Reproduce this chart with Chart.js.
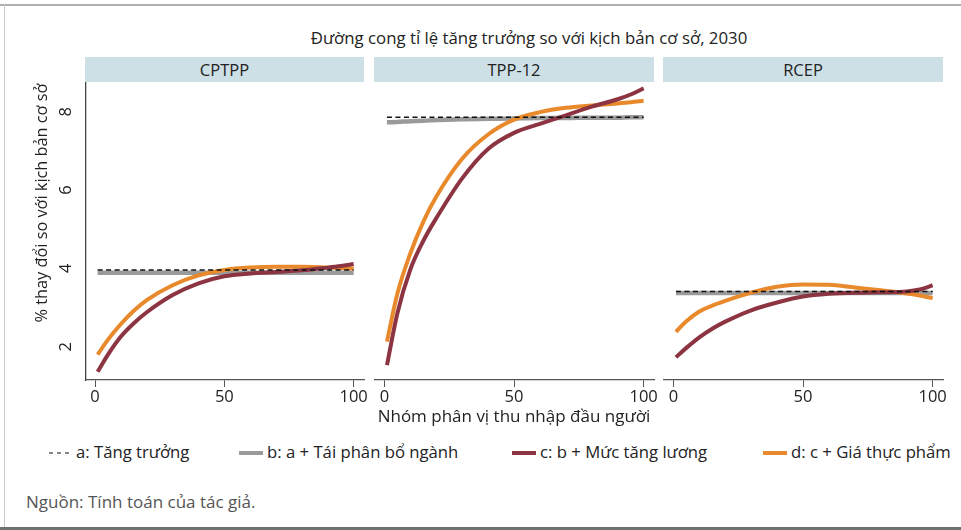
<!DOCTYPE html>
<html><head><meta charset="utf-8">
<script src="https://cdn.jsdelivr.net/npm/chart.js@4"></script>
<style>
body{margin:0;width:961px;height:530px;position:relative;background:#fff;font-family:"Open Sans",sans-serif;overflow:hidden;color:#222}
.frameT{position:absolute;left:0;top:4px;width:961px;height:1.5px;background:#b0b0b0}
.frameL{position:absolute;left:4px;top:4px;width:1px;height:524px;background:#c8c8c8}
.frameB{position:absolute;left:0;top:527px;width:961px;height:3px;background:#707070}
.title{position:absolute;left:0;width:1058px;top:26px;text-align:center;font-size:16.8px}
.hdr{position:absolute;top:57px;height:25px;background:#cde0e6;text-align:center;line-height:25px;font-size:16.5px}
.box{position:absolute;top:82px;height:336px}
.xt{position:absolute;left:0;width:1028px;top:404px;text-align:center;font-size:17px}
.leg{position:absolute;top:440px;font-size:16.7px;white-space:nowrap;line-height:24px}
.sw{display:inline-block;width:24px;height:4px;vertical-align:middle;margin-right:4px;position:relative;top:-1px}
.src{position:absolute;left:26px;top:490px;font-size:17px;color:#555}
</style></head>
<body>
<div class="frameT"></div><div class="frameL"></div><div class="frameB"></div>
<div class="title">Đường cong tỉ lệ tăng trưởng so với kịch bản cơ sở, 2030</div>
<div class="hdr" style="left:85px;width:279px">CPTPP</div>
<div class="hdr" style="left:374px;width:280px">TPP-12</div>
<div class="hdr" style="left:663px;width:280px">RCEP</div>
<div class="box" style="left:0;width:384px"><canvas id="c1"></canvas></div>
<div class="box" style="left:374px;width:300px"><canvas id="c2"></canvas></div>
<div class="box" style="left:663px;width:298px"><canvas id="c3"></canvas></div>
<div class="xt">Nhóm phân vị thu nhập đầu người</div>
<div class="leg" style="left:47px"><svg width="26" height="6" style="vertical-align:middle;margin-right:3px;position:relative;top:-1px"><line x1="2" y1="3" x2="26" y2="3" stroke="#111" stroke-width="1.2" stroke-dasharray="4,4"/></svg>a: Tăng trưởng</div>
<div class="leg" style="left:239px"><span class="sw" style="background:#9a9a9a"></span>b: a + Tái phân bổ ngành</div>
<div class="leg" style="left:512px"><span class="sw" style="background:#8c3441"></span>c: b + Mức tăng lương</div>
<div class="leg" style="left:763px"><span class="sw" style="background:#e8892b"></span>d: c + Giá thực phẩm</div>
<div class="src">Nguồn: Tính toán của tác giả.</div>
<script>
const percentiles = [1,5,10,15,20,30,40,50,60,70,80,90,95,100];
const panelTitles = ["CPTPP","TPP-12","RCEP"];
const seriesLabels = ["a: Tăng trưởng","b: a + Tái phân bổ ngành","c: b + Mức tăng lương","d: c + Giá thực phẩm"];
const xTicks = [0,50,100];
const yTicks = [2,4,6,8];
const yTitle = "% thay đổi so với kịch bản cơ sở";

const cptppA = [3.96,3.96,3.96,3.96,3.96,3.96,3.96,3.96,3.96,3.96,3.96,3.96,3.96,3.96];
const cptppB = [3.89,3.89,3.89,3.89,3.89,3.89,3.89,3.89,3.89,3.89,3.89,3.89,3.89,3.89];
const cptppC = [1.36,1.80,2.26,2.60,2.88,3.32,3.62,3.80,3.87,3.91,3.95,4.02,4.06,4.11];
const cptppD = [1.80,2.18,2.58,2.92,3.19,3.57,3.82,3.96,4.02,4.04,4.04,4.02,4.01,4.00];

const tppA = [7.86,7.86,7.86,7.86,7.86,7.86,7.86,7.86,7.86,7.86,7.86,7.86,7.86,7.86];
const tppB = [7.73,7.74,7.76,7.77,7.79,7.81,7.82,7.83,7.84,7.84,7.85,7.85,7.86,7.86];
const tppC = [1.53,2.85,3.97,4.70,5.28,6.30,7.05,7.46,7.69,7.91,8.13,8.32,8.44,8.60];
const tppD = [2.13,3.35,4.38,5.19,5.83,6.80,7.42,7.80,7.99,8.10,8.16,8.21,8.24,8.28];

const rcepA = [3.41,3.41,3.41,3.41,3.41,3.41,3.41,3.41,3.41,3.41,3.41,3.41,3.41,3.41];
const rcepB = [3.37,3.37,3.37,3.37,3.37,3.37,3.37,3.37,3.37,3.37,3.37,3.37,3.37,3.37];
const rcepC = [1.73,1.97,2.24,2.46,2.64,2.93,3.13,3.28,3.35,3.38,3.39,3.41,3.46,3.57];
const rcepD = [2.38,2.65,2.90,3.05,3.17,3.38,3.53,3.59,3.58,3.51,3.44,3.36,3.31,3.24];

const colors = ["#111111","#9a9a9a","#8c3441","#e8892b"];
const FONT = "'Open Sans', sans-serif";

function pts(arr){ return percentiles.map((p,i)=>({x:p,y:arr[i]})); }

function makeDatasets(a,b,c,d){
  return [
    {label:seriesLabels[0],data:pts(a),borderColor:colors[0],borderWidth:1.4,borderDash:[5,3.5],order:1,tension:0},
    {label:seriesLabels[1],data:pts(b),borderColor:colors[1],borderWidth:4.5,order:4,cubicInterpolationMode:'monotone'},
    {label:seriesLabels[2],data:pts(c),borderColor:colors[2],borderWidth:4,order:2,cubicInterpolationMode:'monotone'},
    {label:seriesLabels[3],data:pts(d),borderColor:colors[3],borderWidth:4,order:3,cubicInterpolationMode:'monotone'}
  ];
}

const yLabelPlugin = {
  id:'ylab',
  afterDraw(chart){
    if(!chart.$showY) return;
    const ctx = chart.ctx, ys = chart.scales.y;
    ctx.save();
    ctx.fillStyle = '#222';
    ctx.font = "16.5px " + FONT;
    ctx.textAlign = 'center'; ctx.textBaseline = 'middle';
    yTicks.forEach(v=>{
      const y = ys.getPixelForValue(v);
      ctx.save(); ctx.translate(66, y); ctx.rotate(-Math.PI/2); ctx.fillText(String(v),0,0); ctx.restore();
    });
    ctx.save(); ctx.translate(42, 121); ctx.rotate(-Math.PI/2);
    ctx.font = "16.3px " + FONT; ctx.fillText(yTitle,0,0); ctx.restore();
    ctx.restore();
  }
};

function makeChart(id, ds, showY, xmin, padRight){
  const ch = new Chart(document.getElementById(id), {
    type:'line',
    data:{datasets:ds},
    options:{
      responsive:true, maintainAspectRatio:false, animation:false,
      layout:{padding:{left:0,top:0,bottom:0,right:padRight}},
      elements:{point:{radius:0}, line:{borderCapStyle:'butt'}},
      plugins:{legend:{display:false}, tooltip:{enabled:false}},
      scales:{
        x:{type:'linear', min:xmin, max:104,
          afterBuildTicks:s=>{s.ticks = xTicks.map(v=>({value:v}));},
          afterFit:s=>{s.height=38; s.paddingLeft=0; s.paddingRight=0;},
          grid:{display:true, drawOnChartArea:false, drawTicks:true, tickLength:7, color:'#555', lineWidth:1},
          border:{display:true, color:'#555', width:1.3},
          ticks:{color:'#222', font:{size:16.5, family:FONT}, padding:0, maxRotation:0, autoSkip:false}
        },
        y:{type:'linear', min:1.15, max:8.76, display:showY,
          afterBuildTicks:s=>{s.ticks = yTicks.map(v=>({value:v}));},
          afterFit:s=>{s.width = showY ? 86 : 0; s.paddingTop=0; s.paddingBottom=0;},
          grid:{display:true, drawOnChartArea:false, drawTicks:false},
          border:{display:true, color:'#444', width:1.3},
          ticks:{display:false}
        }
      }
    },
    plugins:[yLabelPlugin]
  });
  ch.$showY = showY;
  ch.draw();
  return ch;
}

makeChart('c1', makeDatasets(cptppA,cptppB,cptppC,cptppD), true, -3.5, 20);
makeChart('c2', makeDatasets(tppA,tppB,tppC,tppD), false, -4, 20);
makeChart('c3', makeDatasets(rcepA,rcepB,rcepC,rcepD), false, -4, 18);
</script>
</body></html>
